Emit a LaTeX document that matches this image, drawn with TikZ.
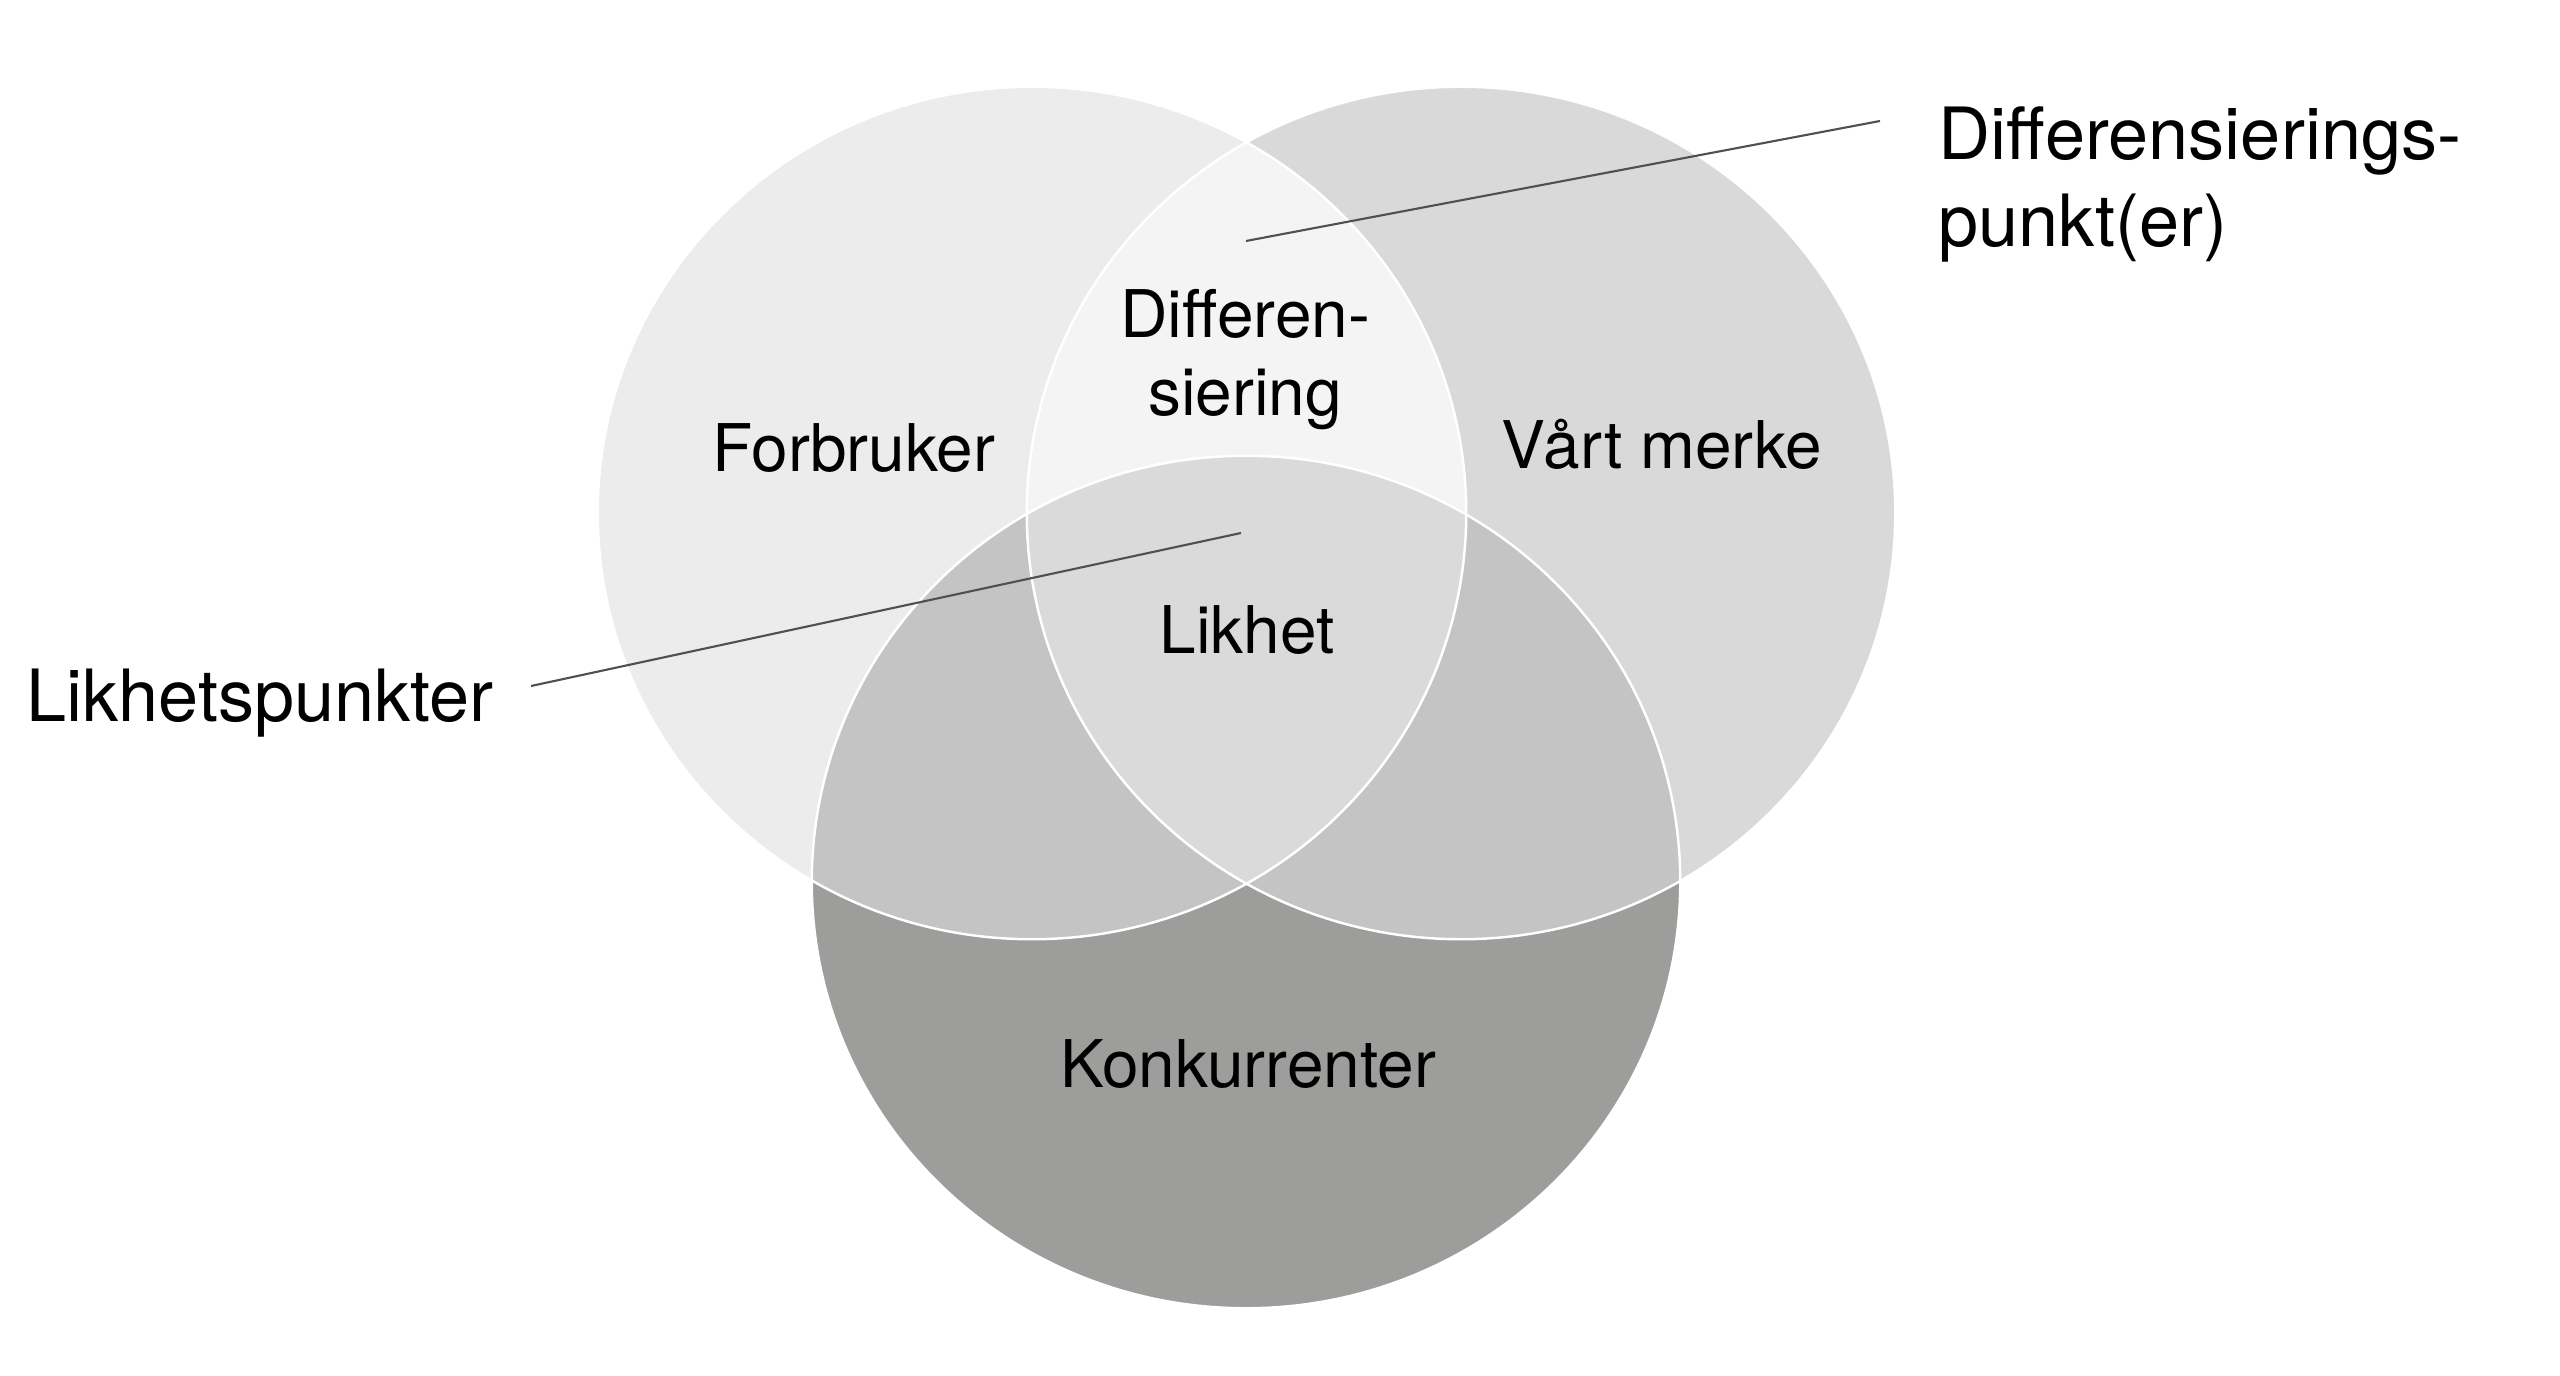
\documentclass[tikz,border=0pt]{standalone}
\usepackage{fontspec}
\setmainfont{TeX Gyre Heros}
\usepackage{tikz}
\definecolor{forbr}{HTML}{ECECEC}
\definecolor{merke}{HTML}{D9D9D9}
\definecolor{difflens}{HTML}{F4F4F4}
\definecolor{konk}{HTML}{9D9D9C}
\definecolor{konkmix}{HTML}{C4C4C4}
\definecolor{trippel}{HTML}{DADADA}
\definecolor{leadgray}{HTML}{505050}
\newcommand{\ovl}{ellipse [x radius=4.34cm, y radius=4.26cm]}

\begin{document}
\begin{tikzpicture}[x=0.01cm, y=-0.01cm,
  lbl/.style={inner sep=0pt, font=\fontsize{18.7}{22.2}\selectfont, align=center},
  outl/.style={inner sep=0pt, font=\fontsize{20.5}{25}\selectfont, align=left},
  rim/.style={draw=white, line width=0.7pt},
  lead/.style={draw=leadgray, line width=0.6pt}]
\useasboundingbox (0,0) rectangle (2560,1376);
\coordinate (cl) at (1032,513);
\coordinate (cr) at (1461,513);
\coordinate (cb) at (1246,882);
% circles and overlaps
\fill[forbr] (cl) \ovl;
\fill[merke] (cr) \ovl;
\begin{scope}
  \clip (cl) \ovl;
  \fill[difflens] (cr) \ovl;
\end{scope}
\fill[konk] (cb) \ovl;
\begin{scope}
  \clip (cb) \ovl;
  \fill[konkmix] (cl) \ovl;
  \fill[konkmix] (cr) \ovl;
  \clip (cl) \ovl;
  \fill[trippel] (cr) \ovl;
\end{scope}
\draw[rim] (cl) \ovl;
\draw[rim] (cr) \ovl;
\draw[rim] (cb) \ovl;
% labels (base = last line)
\node[lbl, anchor=base] (forbruker) at (854,471) {Forbruker};
\node[lbl, anchor=base] (vaart) at (1662,468) {Vårt merke};
\node[lbl, anchor=base] (diff) at (1245,416) {Differen-\\siering};
\node[lbl, anchor=base] (likhet) at (1247,653) {Likhet};
\node[lbl, anchor=base] (konkurr) at (1248,1087) {Konkurrenter};
\node[outl, anchor=base west] (likpkt) at (26,721) {Likhetspunkter};
\node[outl, anchor=base west] (diffpkt) at (1938,247) {Differensierings-\\punkt(er)};
% leader lines
\coordinate (diffend) at (1246,241);
\coordinate (diffstart) at (1880,121);
\coordinate (likend) at (1241,533);
\coordinate (likstart) at (531,686);
\draw[lead] (diffend) -- (diffstart);
\draw[lead] (likstart) -- (likend);
\end{tikzpicture}
\end{document}
